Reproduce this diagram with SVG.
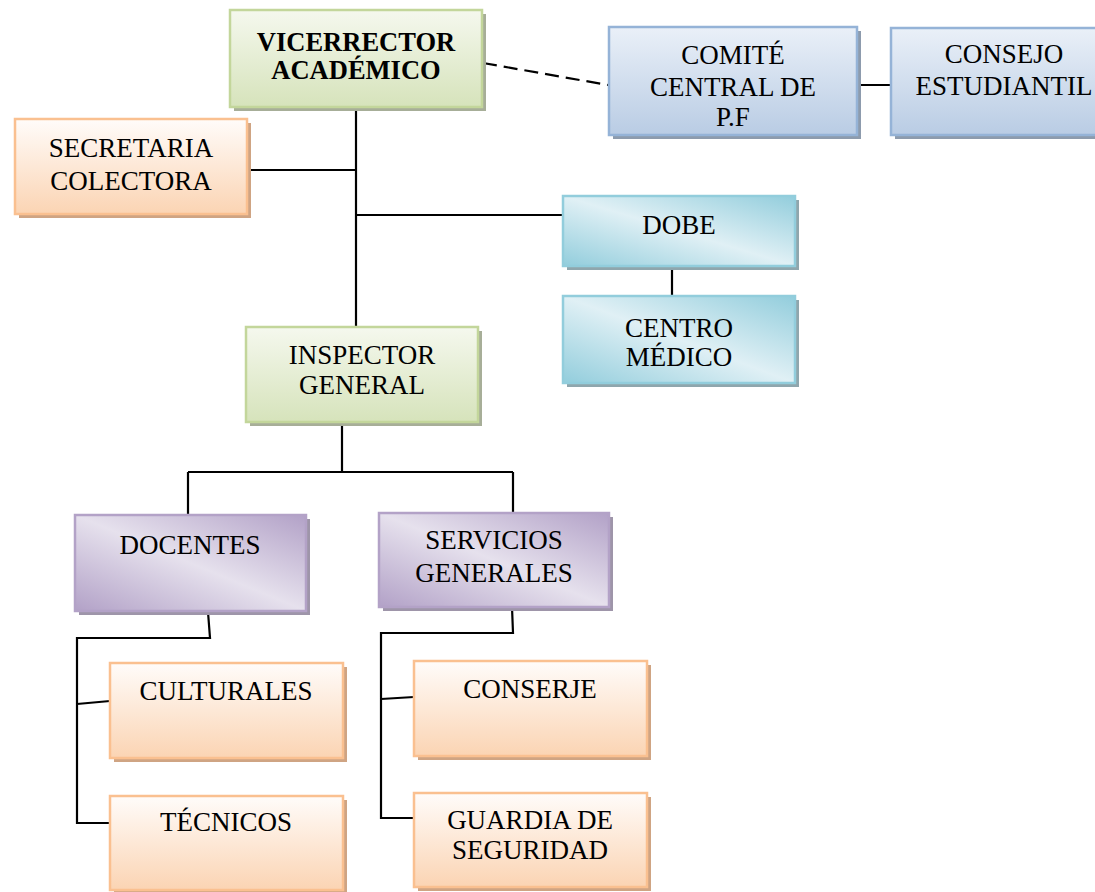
<svg xmlns="http://www.w3.org/2000/svg" width="1095" height="892" viewBox="0 0 1095 892">
<defs>
<linearGradient id="gGreen" x1="0" y1="0" x2="0" y2="1"><stop offset="0" stop-color="#f5f8ee"/><stop offset="1" stop-color="#d6e3bb"/></linearGradient>
<linearGradient id="gOrange" x1="0" y1="0" x2="0" y2="1"><stop offset="0" stop-color="#fffcfa"/><stop offset="1" stop-color="#fbd4b3"/></linearGradient>
<linearGradient id="gBlue" x1="0" y1="0" x2="0" y2="1"><stop offset="0" stop-color="#eaf0f8"/><stop offset="1" stop-color="#b9cce4"/></linearGradient>
<linearGradient id="gTeal" x1="1" y1="0" x2="0" y2="1"><stop offset="0" stop-color="#92cddc"/><stop offset="0.5" stop-color="#e0f0f5"/><stop offset="1" stop-color="#92cddc"/></linearGradient>
<linearGradient id="gPurple" x1="1" y1="0" x2="0" y2="1"><stop offset="0" stop-color="#b2a1c7"/><stop offset="0.5" stop-color="#e6e1ed"/><stop offset="1" stop-color="#b2a1c7"/></linearGradient>
</defs>
<style>
.t{font-family:"Liberation Serif","Times New Roman",serif;font-size:27px;fill:#000;text-anchor:middle}
.b{font-weight:bold;font-size:26.5px}
.green .box{fill:url(#gGreen);stroke:#c3d69b;stroke-width:2.5}
.green .sh{fill:#a7ae98}
.orange .box{fill:url(#gOrange);stroke:#fac090;stroke-width:2.5}
.orange .sh{fill:#cfa483}
.blue .box{fill:url(#gBlue);stroke:#95b3d7;stroke-width:2.5}
.blue .sh{fill:#8d9bad}
.teal .box{fill:url(#gTeal);stroke:#92cddc;stroke-width:2.5}
.teal .sh{fill:#8fa6ad}
.purple .box{fill:url(#gPurple);stroke:#b3a2c7;stroke-width:2.5}
.purple .sh{fill:#9e95a9}
.c{fill:none;stroke:#000;stroke-width:2.2}
</style>
<g id="connectors">
<path class="c" d="M356 107V327"/>
<path class="c" d="M247 170H356"/>
<path class="c" d="M356 215H563"/>
<path class="c" d="M672 266V296"/>
<path class="c" d="M483 63L608 85" stroke-dasharray="14 7"/>
<path class="c" d="M857 85H891"/>
<path class="c" d="M342 422V472M188 472H513M188 472V515M513 472V513"/>
<path class="c" d="M208 612L210 638H77V823H110M77 704L110 701"/>
<path class="c" d="M512 607L513 633H381V818H414M381 699L414 697"/>
</g>
<g id="vicerrector" class="green">
<rect class="sh" x="234" y="14" width="252" height="97"/>
<rect class="box" x="230" y="10" width="252" height="97"/>
<text class="t b" x="356" y="51">VICERRECTOR</text>
<text class="t b" x="356" y="79">ACADÉMICO</text>
</g>
<g id="secretaria" class="orange">
<rect class="sh" x="19" y="123" width="232" height="95"/>
<rect class="box" x="15" y="119" width="232" height="95"/>
<text class="t" x="131" y="157">SECRETARIA</text>
<text class="t" x="131" y="190">COLECTORA</text>
</g>
<g id="comite" class="blue">
<rect class="sh" x="613" y="31" width="248" height="108"/>
<rect class="box" x="609" y="27" width="248" height="108"/>
<text class="t" x="733" y="64">COMITÉ</text>
<text class="t" x="733" y="96">CENTRAL DE</text>
<text class="t" x="733" y="126">P.F</text>
</g>
<g id="consejo" class="blue">
<rect class="sh" x="895" y="32" width="228" height="107"/>
<rect class="box" x="891" y="28" width="228" height="107"/>
<text class="t" x="1004" y="63">CONSEJO</text>
<text class="t" x="1004" y="95">ESTUDIANTIL</text>
</g>
<g id="dobe" class="teal">
<rect class="sh" x="567" y="200" width="232" height="70"/>
<rect class="box" x="563" y="196" width="232" height="70"/>
<text class="t" x="679" y="234">DOBE</text>
</g>
<g id="centro-medico" class="teal">
<rect class="sh" x="567" y="300" width="232" height="87"/>
<rect class="box" x="563" y="296" width="232" height="87"/>
<text class="t" x="679" y="337">CENTRO</text>
<text class="t" x="679" y="366">MÉDICO</text>
</g>
<g id="inspector" class="green">
<rect class="sh" x="250" y="331" width="232" height="95"/>
<rect class="box" x="246" y="327" width="232" height="95"/>
<text class="t" x="362" y="364">INSPECTOR</text>
<text class="t" x="362" y="394">GENERAL</text>
</g>
<g id="docentes" class="purple">
<rect class="sh" x="79" y="519" width="231" height="96"/>
<rect class="box" x="75" y="515" width="231" height="96"/>
<text class="t" x="190" y="554">DOCENTES</text>
</g>
<g id="servicios" class="purple">
<rect class="sh" x="383" y="517" width="230" height="94"/>
<rect class="box" x="379" y="513" width="230" height="94"/>
<text class="t" x="494" y="549">SERVICIOS</text>
<text class="t" x="494" y="582">GENERALES</text>
</g>
<g id="culturales" class="orange">
<rect class="sh" x="114" y="667" width="233" height="95"/>
<rect class="box" x="110" y="663" width="233" height="95"/>
<text class="t" x="226" y="700">CULTURALES</text>
</g>
<g id="tecnicos" class="orange">
<rect class="sh" x="114" y="800" width="233" height="94"/>
<rect class="box" x="110" y="796" width="233" height="94"/>
<text class="t" x="226" y="831">TÉCNICOS</text>
</g>
<g id="conserje" class="orange">
<rect class="sh" x="418" y="665" width="233" height="95"/>
<rect class="box" x="414" y="661" width="233" height="95"/>
<text class="t" x="530" y="698">CONSERJE</text>
</g>
<g id="guardia" class="orange">
<rect class="sh" x="418" y="797" width="233" height="94"/>
<rect class="box" x="414" y="793" width="233" height="94"/>
<text class="t" x="530" y="829">GUARDIA DE</text>
<text class="t" x="530" y="859">SEGURIDAD</text>
</g>
</svg>
